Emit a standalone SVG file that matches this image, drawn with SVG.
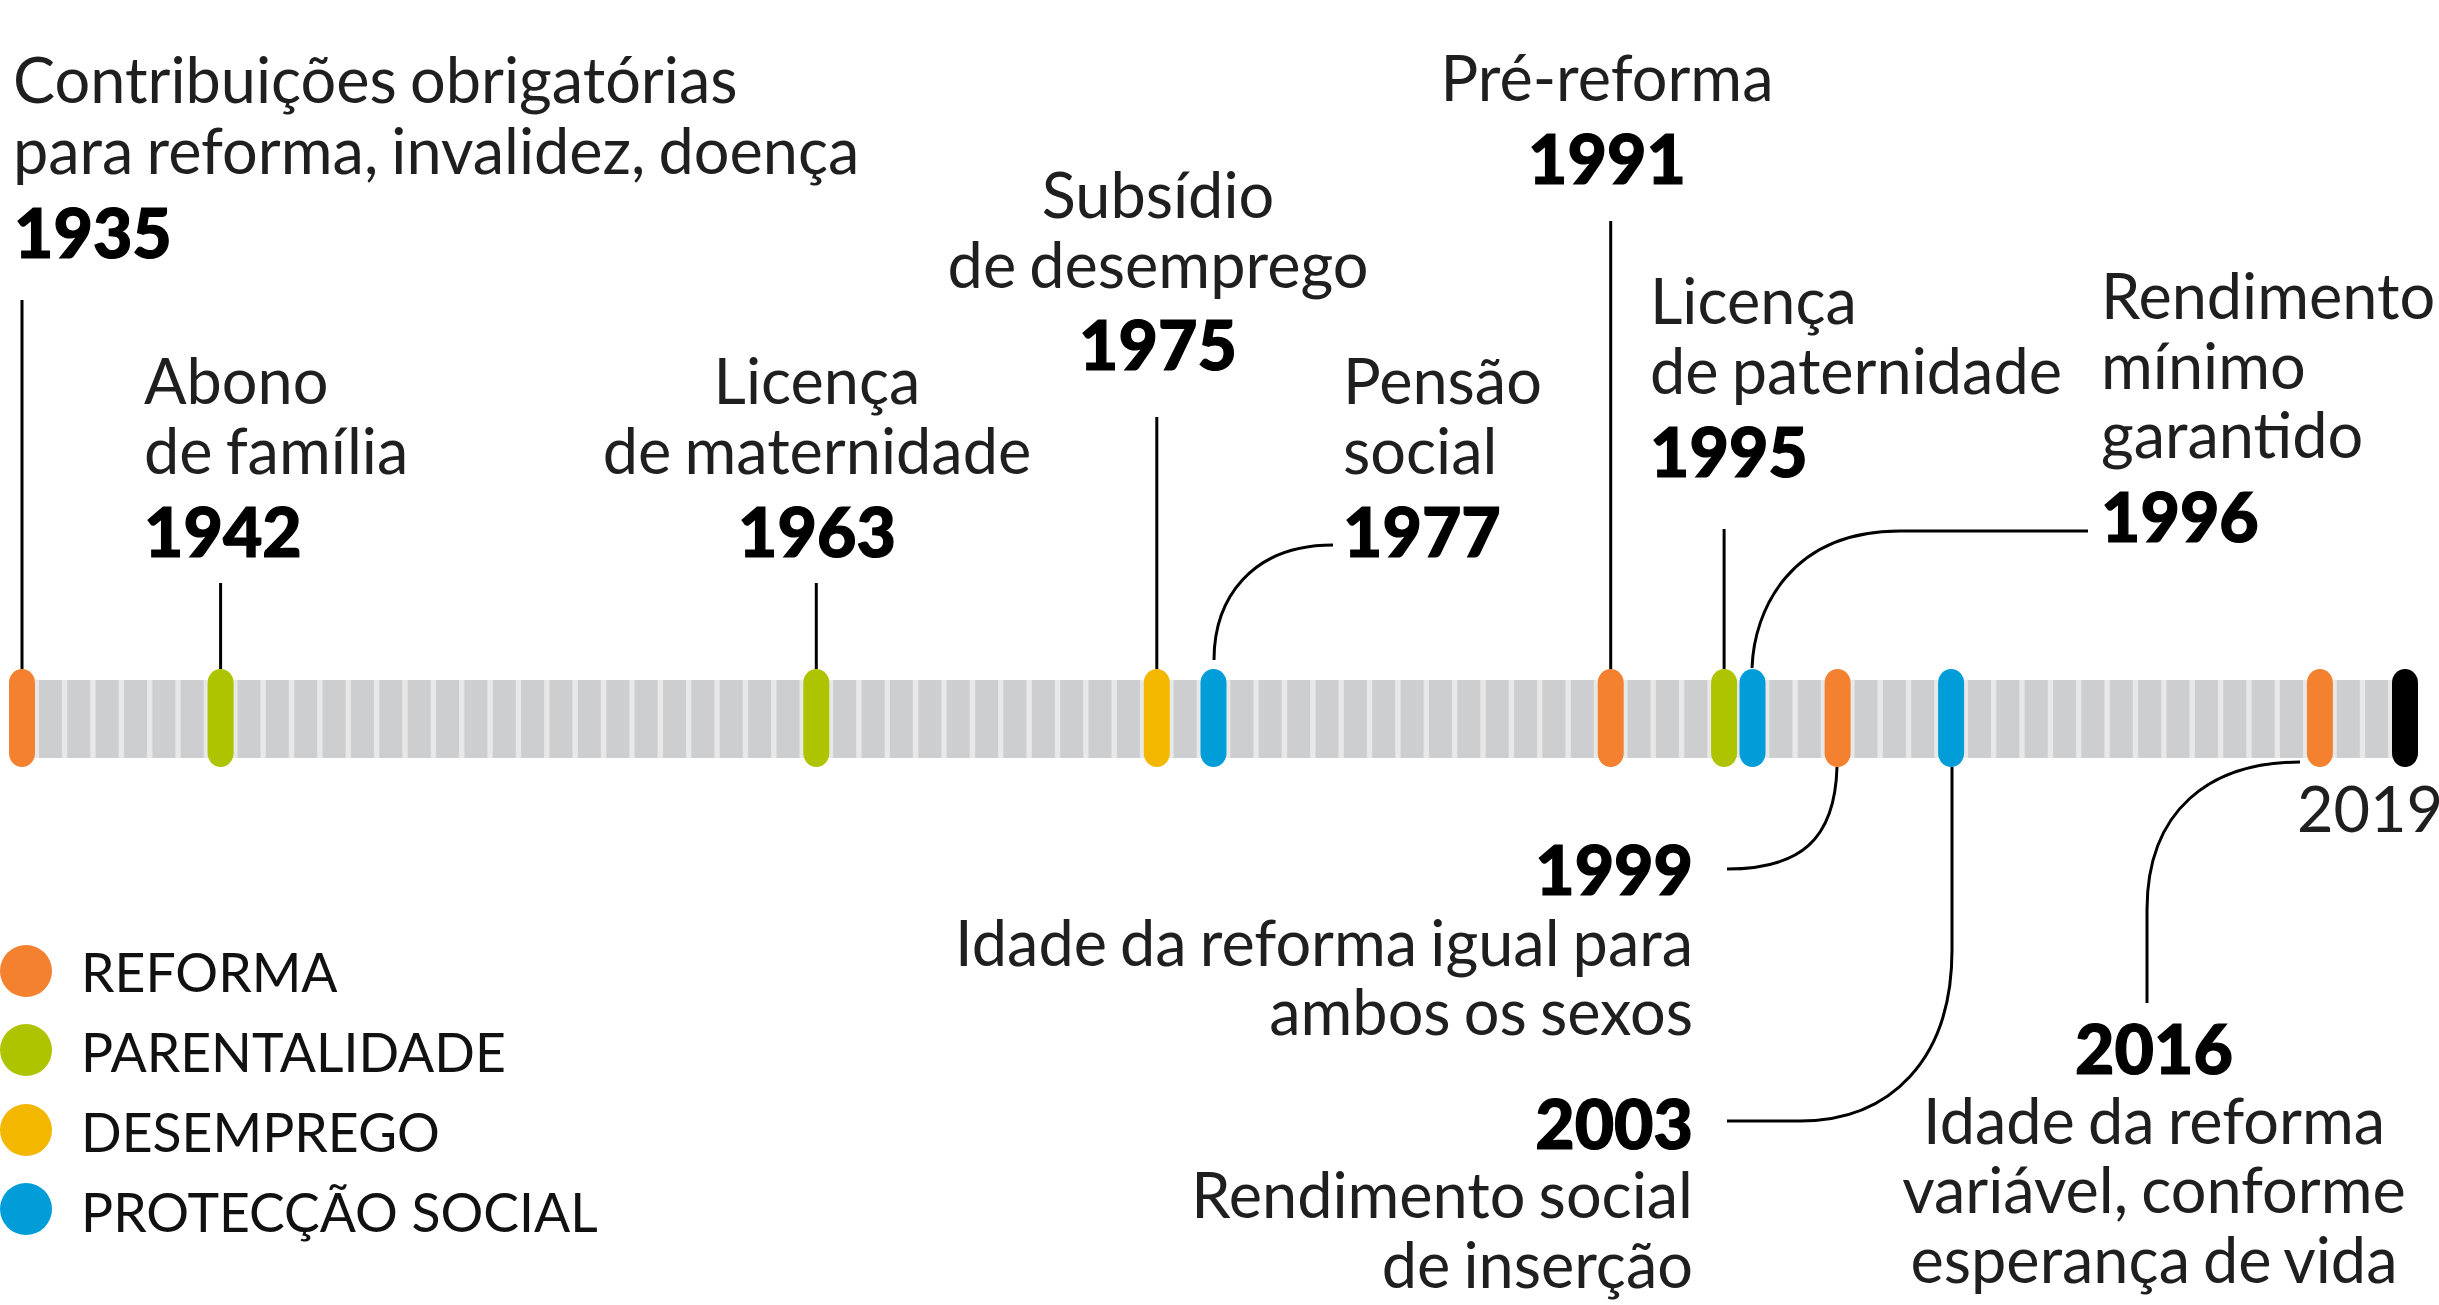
<svg xmlns="http://www.w3.org/2000/svg" width="2439" height="1305" viewBox="0 0 2439 1305">
<style>
  text { font-family: Lato, "Liberation Sans", sans-serif; fill: #1f1f1f; }
  .t { font-size: 63px; font-weight: 400; word-spacing: -3px; }
  .y { font-size: 68px; font-weight: 900; fill: #000; stroke: #000; stroke-width: 1.2px; }
  .lg { font-size: 53.5px; font-weight: 400; fill: #111; }
  .mid { text-anchor: middle; }
  .end { text-anchor: end; }
  .bar { fill: #CDCED0; }
  .pill { rx: 13px; ry: 14px; }
  .ref { fill: #F3812F; }
  .par { fill: #AEC400; }
  .des { fill: #F3B700; }
  .pro { fill: #009DD9; }
  .conn { fill: none; stroke: #000; stroke-width: 3; }
</style>
<rect width="2439" height="1305" fill="#fff"/>

<g id="timeline">
  <rect x="22" y="680" width="2383" height="78" fill="#E8E8E9"/>
  <rect class="bar" x="38.9" y="680" width="23" height="78"/>
  <rect class="bar" x="67.2" y="680" width="23" height="78"/>
  <rect class="bar" x="95.6" y="680" width="23" height="78"/>
  <rect class="bar" x="124.0" y="680" width="23" height="78"/>
  <rect class="bar" x="152.4" y="680" width="23" height="78"/>
  <rect class="bar" x="180.7" y="680" width="23" height="78"/>
  <rect class="bar" x="237.5" y="680" width="23" height="78"/>
  <rect class="bar" x="265.8" y="680" width="23" height="78"/>
  <rect class="bar" x="294.2" y="680" width="23" height="78"/>
  <rect class="bar" x="322.6" y="680" width="23" height="78"/>
  <rect class="bar" x="350.9" y="680" width="23" height="78"/>
  <rect class="bar" x="379.3" y="680" width="23" height="78"/>
  <rect class="bar" x="407.7" y="680" width="23" height="78"/>
  <rect class="bar" x="436.0" y="680" width="23" height="78"/>
  <rect class="bar" x="464.4" y="680" width="23" height="78"/>
  <rect class="bar" x="492.8" y="680" width="23" height="78"/>
  <rect class="bar" x="521.1" y="680" width="23" height="78"/>
  <rect class="bar" x="549.5" y="680" width="23" height="78"/>
  <rect class="bar" x="577.9" y="680" width="23" height="78"/>
  <rect class="bar" x="606.3" y="680" width="23" height="78"/>
  <rect class="bar" x="634.6" y="680" width="23" height="78"/>
  <rect class="bar" x="663.0" y="680" width="23" height="78"/>
  <rect class="bar" x="691.4" y="680" width="23" height="78"/>
  <rect class="bar" x="719.7" y="680" width="23" height="78"/>
  <rect class="bar" x="748.1" y="680" width="23" height="78"/>
  <rect class="bar" x="776.5" y="680" width="23" height="78"/>
  <rect class="bar" x="833.2" y="680" width="23" height="78"/>
  <rect class="bar" x="861.6" y="680" width="23" height="78"/>
  <rect class="bar" x="889.9" y="680" width="23" height="78"/>
  <rect class="bar" x="918.3" y="680" width="23" height="78"/>
  <rect class="bar" x="946.7" y="680" width="23" height="78"/>
  <rect class="bar" x="975.1" y="680" width="23" height="78"/>
  <rect class="bar" x="1003.4" y="680" width="23" height="78"/>
  <rect class="bar" x="1031.8" y="680" width="23" height="78"/>
  <rect class="bar" x="1060.2" y="680" width="23" height="78"/>
  <rect class="bar" x="1088.5" y="680" width="23" height="78"/>
  <rect class="bar" x="1116.9" y="680" width="23" height="78"/>
  <rect class="bar" x="1173.6" y="680" width="23" height="78"/>
  <rect class="bar" x="1230.4" y="680" width="23" height="78"/>
  <rect class="bar" x="1258.7" y="680" width="23" height="78"/>
  <rect class="bar" x="1287.1" y="680" width="23" height="78"/>
  <rect class="bar" x="1315.5" y="680" width="23" height="78"/>
  <rect class="bar" x="1343.8" y="680" width="23" height="78"/>
  <rect class="bar" x="1372.2" y="680" width="23" height="78"/>
  <rect class="bar" x="1400.6" y="680" width="23" height="78"/>
  <rect class="bar" x="1429.0" y="680" width="23" height="78"/>
  <rect class="bar" x="1457.3" y="680" width="23" height="78"/>
  <rect class="bar" x="1485.7" y="680" width="23" height="78"/>
  <rect class="bar" x="1514.1" y="680" width="23" height="78"/>
  <rect class="bar" x="1542.4" y="680" width="23" height="78"/>
  <rect class="bar" x="1570.8" y="680" width="23" height="78"/>
  <rect class="bar" x="1627.5" y="680" width="23" height="78"/>
  <rect class="bar" x="1655.9" y="680" width="23" height="78"/>
  <rect class="bar" x="1684.3" y="680" width="23" height="78"/>
  <rect class="bar" x="1769.4" y="680" width="23" height="78"/>
  <rect class="bar" x="1797.8" y="680" width="23" height="78"/>
  <rect class="bar" x="1854.5" y="680" width="23" height="78"/>
  <rect class="bar" x="1882.9" y="680" width="23" height="78"/>
  <rect class="bar" x="1911.2" y="680" width="23" height="78"/>
  <rect class="bar" x="1968.0" y="680" width="23" height="78"/>
  <rect class="bar" x="1996.3" y="680" width="23" height="78"/>
  <rect class="bar" x="2024.7" y="680" width="23" height="78"/>
  <rect class="bar" x="2053.1" y="680" width="23" height="78"/>
  <rect class="bar" x="2081.4" y="680" width="23" height="78"/>
  <rect class="bar" x="2109.8" y="680" width="23" height="78"/>
  <rect class="bar" x="2138.2" y="680" width="23" height="78"/>
  <rect class="bar" x="2166.5" y="680" width="23" height="78"/>
  <rect class="bar" x="2194.9" y="680" width="23" height="78"/>
  <rect class="bar" x="2223.3" y="680" width="23" height="78"/>
  <rect class="bar" x="2251.7" y="680" width="23" height="78"/>
  <rect class="bar" x="2280.0" y="680" width="23" height="78"/>
  <rect class="bar" x="2336.8" y="680" width="23" height="78"/>
  <rect class="bar" x="2365.1" y="680" width="23" height="78"/>
</g>

<g id="connectors">
  <line class="conn" x1="22" y1="300" x2="22" y2="669"/>
  <line class="conn" x1="220.6" y1="583" x2="220.6" y2="669"/>
  <line class="conn" x1="816.3" y1="583" x2="816.3" y2="669"/>
  <line class="conn" x1="1156.8" y1="417" x2="1156.8" y2="669"/>
  <path class="conn" d="M1333,545 C1250,545 1214,600 1214,660"/>
  <line class="conn" x1="1610.7" y1="221" x2="1610.7" y2="669"/>
  <line class="conn" x1="1724.1" y1="529" x2="1724.1" y2="669"/>
  <path class="conn" d="M2088,531 L1900,531 C1790,531 1754,610 1752,668"/>
  <path class="conn" d="M1837,767 C1835,840 1800,869 1727,869"/>
  <path class="conn" d="M1952,767 L1952,950 C1952,1060 1890,1121 1800,1121 L1727,1121"/>
  <path class="conn" d="M2147,1003 L2147,910 C2147,810 2210,762 2300,762"/>
</g>

<g id="node-1935">
  <rect class="pill ref" x="9" y="669" width="26" height="98"/>
  <text class="t" x="13" y="103">Contribuições obrigatórias</text>
  <text class="t" x="13" y="174">para reforma, invalidez, doença</text>
  <text class="y" x="14" y="258">1935</text>
</g>
<g id="node-1942">
  <rect class="pill par" x="207.6" y="669" width="26" height="98"/>
  <text class="t" x="144" y="404">Abono</text>
  <text class="t" x="144" y="474">de família</text>
  <text class="y" x="144" y="557">1942</text>
</g>
<g id="node-1963">
  <rect class="pill par" x="803.3" y="669" width="26" height="98"/>
  <text class="t mid" x="817" y="404">Licença</text>
  <text class="t mid" x="817" y="474">de maternidade</text>
  <text class="y mid" x="817" y="557">1963</text>
</g>
<g id="node-1975">
  <rect class="pill des" x="1143.8" y="669" width="26" height="98"/>
  <text class="t mid" x="1158" y="218">Subsídio</text>
  <text class="t mid" x="1158" y="288">de desemprego</text>
  <text class="y mid" x="1158" y="370">1975</text>
</g>
<g id="node-1977">
  <rect class="pill pro" x="1200.5" y="669" width="26" height="98"/>
  <text class="t" x="1343" y="404">Pensão</text>
  <text class="t" x="1343" y="474">social</text>
  <text class="y" x="1343" y="557">1977</text>
</g>
<g id="node-1991">
  <rect class="pill ref" x="1597.7" y="669" width="26" height="98"/>
  <text class="t mid" x="1607" y="101">Pré-reforma</text>
  <text class="y mid" x="1607" y="184">1991</text>
</g>
<g id="node-1995">
  <rect class="pill par" x="1711.1" y="669" width="26" height="98"/>
  <text class="t" x="1650" y="324">Licença</text>
  <text class="t" x="1650" y="394">de paternidade</text>
  <text class="y" x="1650" y="477">1995</text>
</g>
<g id="node-1996">
  <rect class="pill pro" x="1739.5" y="669" width="26" height="98"/>
  <text class="t" x="2101" y="319">Rendimento</text>
  <text class="t" x="2101" y="389">mínimo</text>
  <text class="t" x="2101" y="458">garantido</text>
  <text class="y" x="2101" y="542">1996</text>
</g>
<g id="node-1999">
  <rect class="pill ref" x="1824.6" y="669" width="26" height="98"/>
  <text class="y end" x="1693" y="895">1999</text>
  <text class="t end" x="1693" y="966">Idade da reforma igual para</text>
  <text class="t end" x="1693" y="1035">ambos os sexos</text>
</g>
<g id="node-2003">
  <rect class="pill pro" x="1938.1" y="669" width="26" height="98"/>
  <text class="y end" x="1693" y="1149">2003</text>
  <text class="t end" x="1693" y="1218">Rendimento social</text>
  <text class="t end" x="1693" y="1288">de inserção</text>
</g>
<g id="node-2016">
  <rect class="pill ref" x="2306.9" y="669" width="26" height="98"/>
  <text class="y mid" x="2154" y="1074">2016</text>
  <text class="t mid" x="2154" y="1144">Idade da reforma</text>
  <text class="t mid" x="2154" y="1213">variável, conforme</text>
  <text class="t mid" x="2154" y="1283">esperança de vida</text>
</g>
<g id="node-2019">
  <rect class="pill" x="2392" y="669" width="26" height="98" fill="#000"/>
  <text class="t" x="2297" y="832">2019</text>
</g>

<g id="legend">
  <circle class="ref" cx="26" cy="971" r="26"/>
  <text class="lg" x="81" y="992">REFORMA</text>
  <circle class="par" cx="26" cy="1050" r="26"/>
  <text class="lg" x="81" y="1072">PARENTALIDADE</text>
  <circle class="des" cx="26" cy="1130" r="26"/>
  <text class="lg" x="81" y="1152">DESEMPREGO</text>
  <circle class="pro" cx="26" cy="1209" r="26"/>
  <text class="lg" x="81" y="1232">PROTECÇÃO SOCIAL</text>
</g>
</svg>
